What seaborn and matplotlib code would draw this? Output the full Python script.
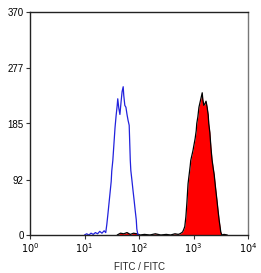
import numpy as np
import pandas as pd
import seaborn as sns
import matplotlib.pyplot as plt

sns.set_style("white")
plt.rcParams['font.family'] = ['Liberation Sans', 'DejaVu Sans']

# isotype control (blue outline), log10 of FITC intensity vs events
blue_log = [1.00, 1.04, 1.08, 1.12, 1.16, 1.20, 1.24, 1.28, 1.32, 1.36, 1.39,
            1.41, 1.43, 1.45, 1.47, 1.49, 1.50, 1.52, 1.54, 1.56, 1.58, 1.60,
            1.61, 1.63, 1.65, 1.67, 1.69, 1.71, 1.72, 1.74, 1.76, 1.78, 1.80,
            1.82, 1.84, 1.85, 1.87, 1.89, 1.91, 1.93, 1.95, 1.96, 1.98, 2.00]
blue_counts = [0, 2, 0, 3, 1, 4, 2, 6, 3, 7, 4,
               18, 35, 53, 71, 89, 106, 124, 151, 178, 198, 215,
               226, 210, 200, 220, 238, 246, 232, 215, 212, 200, 190,
               182, 124, 107, 91, 74, 58, 41, 25, 10, 0, 0]

# stained sample (red filled), log10 of FITC intensity vs events
red_log = [1.60, 1.66, 1.72, 1.78, 1.84, 1.90, 1.96, 2.02, 2.10, 2.20, 2.30,
           2.40, 2.50, 2.58, 2.66, 2.72, 2.75, 2.77, 2.80, 2.82, 2.84, 2.86,
           2.88, 2.90, 2.92, 2.94, 2.95, 2.97, 2.99, 3.01, 3.03, 3.05, 3.06,
           3.08, 3.10, 3.12, 3.14, 3.16, 3.17, 3.19, 3.21, 3.23, 3.25, 3.27,
           3.28, 3.30, 3.32, 3.34, 3.36, 3.38, 3.39, 3.41, 3.43, 3.45, 3.47,
           3.49, 3.50, 3.52, 3.56, 3.62]
red_counts = [0, 3, 2, 4, 1, 3, 2, 0, 1, 0, 2,
              0, 1, 0, 2, 1, 2, 3, 5, 9, 14, 30,
              55, 85, 100, 115, 124, 132, 140, 150, 160, 173, 185,
              196, 212, 220, 228, 236, 225, 215, 218, 222, 212, 199,
              185, 170, 145, 125, 112, 100, 91, 74, 58, 41, 25,
              12, 5, 0, 1, 0]

yticks = [0, 92, 185, 277, 370]
xtick_labels = [r'$10^{0}$', r'$10^{1}$', r'$10^{2}$', r'$10^{3}$', r'$10^{4}$']

blue = pd.DataFrame({'fitc': 10 ** np.array(blue_log), 'events': blue_counts})
red = pd.DataFrame({'fitc': 10 ** np.array(red_log), 'events': red_counts})

fig = plt.figure(figsize=(2.61, 2.73), dpi=100)
ax = fig.add_axes([30 / 261, 38 / 273, 218 / 261, 223 / 273])

ax.fill_between(red['fitc'], red['events'], 0, color='#ff0000', lw=0)
sns.lineplot(data=red, x='fitc', y='events', ax=ax, color='black', lw=0.9)
sns.lineplot(data=blue, x='fitc', y='events', ax=ax, color='#2222dd', lw=0.9)

ax.set_xscale('log')
ax.set_xlim(1, 1e4)
ax.set_ylim(0, 370)
ax.set_xticks([1, 10, 100, 1000, 10000])
ax.set_xticklabels(xtick_labels)
ax.xaxis.set_minor_locator(plt.NullLocator())
ax.set_yticks(yticks)
ax.set_yticklabels([str(v) for v in yticks])
ax.tick_params(axis='both', labelsize=7, length=3, width=0.8, direction='out',
               colors='#333333', labelcolor='black', pad=1.5,
               bottom=True, left=True)

ax.set_xlabel('FITC / FITC', fontsize=7, labelpad=5)
ax.set_ylabel('')

for side in ['left', 'bottom', 'top']:
    ax.spines[side].set_color('#222222')
    ax.spines[side].set_linewidth(1.0)
ax.spines['right'].set_color('#777777')
ax.spines['right'].set_linewidth(1.0)

fig.savefig('out.png', dpi=100)
